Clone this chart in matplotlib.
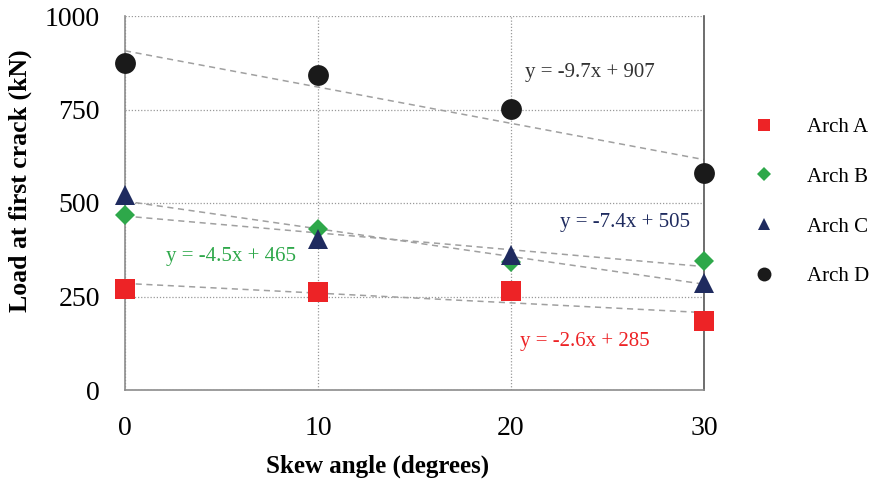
import numpy as np
import matplotlib
matplotlib.use("Agg")
import matplotlib.pyplot as plt
from matplotlib.lines import Line2D

# Data
skew = [0, 10, 20, 30]
arch_a = [270, 263, 265, 185]
arch_b = [468, 430, 343, 346]
arch_c = [521, 405, 362, 286]
arch_d = [873, 842, 752, 581]

# Linear trend coefficients shown on the chart
slopes = [-2.6, -4.5, -7.4, -9.7]
intercepts = [285, 465, 505, 907]

names = ["Arch A", "Arch B", "Arch C", "Arch D"]
colors = ["#ED2326", "#2EA84A", "#1F2B5F", "#1A1A1A"]
markers = ["s", "D", "^", "o"]
msizes = [14, 10, 14, 15]
leg_sizes = [9, 7, 9, 10]

plt.rcParams["font.family"] = "Liberation Serif"

fig = plt.figure(figsize=(8.76, 4.79), dpi=100)
ax = fig.add_axes([125 / 876, 89 / 479, 579 / 876, 374 / 479])

series = [arch_a, arch_b, arch_c, arch_d]
xs = np.array([0, 30])
for vals, m, b, col, mk, ms in zip(series, slopes, intercepts, colors, markers, msizes):
    ax.plot(xs, m * xs + b, linestyle=(0, (4, 3)), color="#A0A0A0", linewidth=1.1, zorder=2)
    ax.plot(skew, vals, linestyle="none", marker=mk, markersize=ms, color=col,
            markeredgewidth=0, zorder=3, clip_on=False)

# Trend line equations
eq_pos = [(23.8, 130), (5.5, 358), (25.9, 448), (24.1, 850)]
for (ex, ey), m, b, col in zip(eq_pos, slopes, intercepts, colors):
    txt = f"y = {m}x + {b}"
    tcol = "#333333" if col == "#1A1A1A" else col
    ax.text(ex, ey, txt, color=tcol, fontsize=15, ha="center", va="center")

ax.set_xlim(0, 30)
ax.set_ylim(0, 1000)
ax.set_xticks([0, 10, 20, 30])
ax.set_yticks([0, 250, 500, 750, 1000])
ax.tick_params(axis="both", length=0, labelsize=20)
ax.tick_params(axis="y", pad=18)
ax.tick_params(axis="x", pad=19)
ax.grid(True, linestyle=(0, (1, 1.5)), color="#999999", linewidth=0.9)
ax.set_axisbelow(True)
ax.spines["top"].set_visible(False)
for s in ["left", "bottom"]:
    ax.spines[s].set_color("#8C8C8C")
    ax.spines[s].set_linewidth(1.2)
ax.spines["right"].set_color("#555555")
ax.spines["right"].set_linewidth(1.2)

ax.set_xlabel("Skew angle (degrees)", fontsize=18, fontweight="bold", va="center")
ax.xaxis.set_label_coords(0.436, -0.203)
ax.set_ylabel("Load at first crack (kN)", fontsize=18.5, fontweight="bold", va="center")
ax.yaxis.set_label_coords(-0.18, 0.56)

handles = [Line2D([], [], linestyle="none", marker=mk, color=col, markersize=ls,
                  markeredgewidth=0)
           for mk, col, ls in zip(markers, colors, leg_sizes)]
fig.legend(handles, names, loc="upper left", bbox_to_anchor=(740 / 876, 1 - 109 / 479),
           frameon=False, fontsize=15, labelspacing=1.45, handlelength=1.5,
           handletextpad=1.3, borderaxespad=0)

fig.savefig("out.png", dpi=100)
